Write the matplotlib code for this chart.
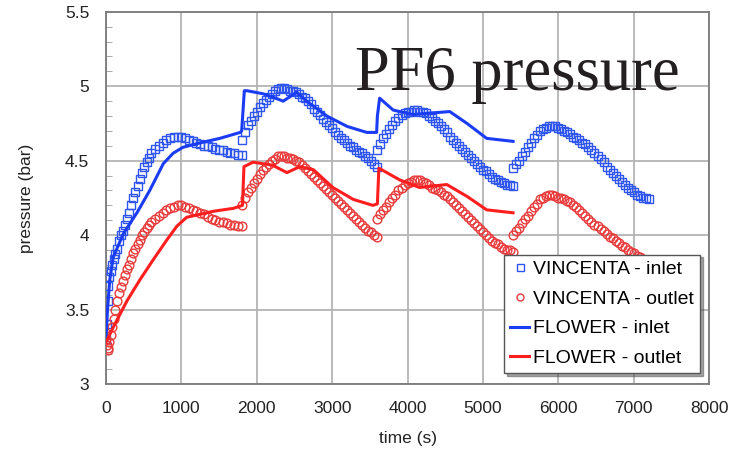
import numpy as np
import matplotlib
matplotlib.use("Agg")
import matplotlib.pyplot as plt
from matplotlib.ticker import MultipleLocator

# ---- data ----
t_seg1 = [0, 10, 20, 30, 45, 60, 80, 100, 125, 150, 175, 200, 225, 250, 275, 300, 330, 360, 390, 420,
          450, 480, 510, 540, 570, 600, 650, 700, 750, 800, 850, 900, 950, 1000, 1050, 1100, 1150, 1200,
          1250, 1300, 1350, 1400, 1450, 1500, 1550, 1600, 1650, 1700, 1750, 1800]
t_seg2 = list(range(1800, 3601, 40))
t_seg3 = list(range(3600, 5401, 40))
t_seg4 = list(range(5400, 7201, 40))

vin_in_1 = [3.30, 3.40, 3.56, 3.66, 3.72, 3.76, 3.80, 3.84, 3.87, 3.91, 3.96, 4.00, 4.03, 4.07, 4.11, 4.15,
            4.20, 4.25, 4.29, 4.33, 4.38, 4.42, 4.46, 4.49, 4.52, 4.55, 4.58, 4.60, 4.62, 4.64, 4.65, 4.66,
            4.66, 4.66, 4.65, 4.64, 4.63, 4.62, 4.61, 4.60, 4.60, 4.59, 4.58, 4.57, 4.57, 4.56, 4.55, 4.55,
            4.54, 4.54]
vin_in_2 = [4.64, 4.69, 4.74, 4.77, 4.80, 4.83, 4.86, 4.89, 4.91, 4.93,
            4.95, 4.97, 4.98, 4.99, 4.99, 4.98, 4.97, 4.97, 4.96, 4.95,
            4.93, 4.92, 4.90, 4.88, 4.85, 4.83, 4.81, 4.78, 4.76, 4.74,
            4.72, 4.69, 4.67, 4.65, 4.64, 4.62, 4.60, 4.59, 4.57, 4.56,
            4.55, 4.53, 4.52, 4.50, 4.48, 4.46]
vin_in_3 = [4.57, 4.61, 4.65, 4.68, 4.71, 4.74, 4.77, 4.79, 4.81, 4.82,
            4.83, 4.83, 4.84, 4.84, 4.83, 4.83, 4.82, 4.80, 4.79, 4.77,
            4.75, 4.73, 4.71, 4.69, 4.66, 4.64, 4.62, 4.60, 4.58, 4.56,
            4.54, 4.52, 4.50, 4.48, 4.46, 4.44, 4.43, 4.41, 4.39, 4.38,
            4.37, 4.36, 4.35, 4.34, 4.34, 4.33]
vin_in_4 = [4.45, 4.48, 4.50, 4.53, 4.56, 4.59, 4.62, 4.65, 4.67, 4.70,
            4.71, 4.72, 4.73, 4.73, 4.73, 4.72, 4.71, 4.70, 4.69, 4.68,
            4.66, 4.65, 4.64, 4.62, 4.61, 4.59, 4.57, 4.55, 4.53, 4.51,
            4.49, 4.46, 4.44, 4.42, 4.40, 4.38, 4.36, 4.34, 4.32, 4.30,
            4.29, 4.27, 4.26, 4.25, 4.25, 4.24]

vin_out_1 = [3.30, 3.26, 3.23, 3.24, 3.28, 3.33, 3.38, 3.44, 3.50, 3.56, 3.61, 3.65, 3.69, 3.73, 3.77, 3.80,
             3.84, 3.88, 3.91, 3.94, 3.97, 4.00, 4.02, 4.05, 4.07, 4.09, 4.11, 4.13, 4.15, 4.17, 4.18, 4.19,
             4.20, 4.20, 4.19, 4.18, 4.17, 4.16, 4.15, 4.14, 4.12, 4.11, 4.10, 4.09, 4.09, 4.08, 4.07, 4.07,
             4.06, 4.06]
vin_out_2 = [4.20, 4.25, 4.29, 4.32, 4.35, 4.38, 4.41, 4.44, 4.46, 4.48,
             4.50, 4.51, 4.53, 4.53, 4.53, 4.52, 4.52, 4.51, 4.50, 4.49,
             4.47, 4.45, 4.43, 4.41, 4.39, 4.37, 4.35, 4.33, 4.31, 4.29,
             4.27, 4.25, 4.23, 4.21, 4.19, 4.17, 4.15, 4.13, 4.11, 4.09,
             4.07, 4.05, 4.03, 4.02, 4.00, 3.99]
vin_out_3 = [4.11, 4.14, 4.17, 4.19, 4.22, 4.25, 4.27, 4.30, 4.32, 4.34,
             4.35, 4.36, 4.37, 4.37, 4.37, 4.36, 4.35, 4.34, 4.32, 4.31,
             4.30, 4.29, 4.27, 4.26, 4.24, 4.22, 4.20, 4.18, 4.16, 4.14,
             4.12, 4.10, 4.08, 4.06, 4.04, 4.02, 4.00, 3.98, 3.96, 3.95,
             3.94, 3.92, 3.91, 3.90, 3.90, 3.89]
vin_out_4 = [4.00, 4.03, 4.05, 4.08, 4.11, 4.13, 4.16, 4.19, 4.21, 4.24,
             4.25, 4.26, 4.27, 4.27, 4.26, 4.25, 4.25, 4.24, 4.23, 4.22,
             4.20, 4.19, 4.17, 4.15, 4.13, 4.11, 4.09, 4.07, 4.06, 4.04,
             4.03, 4.01, 3.99, 3.98, 3.96, 3.95, 3.93, 3.92, 3.90, 3.89,
             3.88, 3.86, 3.85, 3.84, 3.83, 3.82]

flow_in_t = [0, 20, 50, 95, 230, 410, 580, 760, 890, 1020, 1250, 1510, 1780, 1800, 1835, 1870, 2080, 2200,
             2350, 2530, 2660, 2930, 3200, 3460, 3590, 3600, 3630, 3810, 4070, 4300, 4560, 4790, 5050, 5400]
flow_in_p = [3.30, 3.50, 3.70, 3.85, 4.01, 4.15, 4.30, 4.48, 4.55, 4.59, 4.62, 4.65, 4.69, 4.70, 4.97, 4.97,
             4.95, 4.93, 4.90, 4.96, 4.90, 4.80, 4.73, 4.69, 4.69, 4.80, 4.92, 4.84, 4.81, 4.82, 4.83, 4.75,
             4.65, 4.63]

flow_out_t = [0, 95, 280, 450, 620, 810, 940, 1070, 1250, 1420, 1690, 1810, 1830, 1950, 2210, 2400, 2570,
              2750, 3010, 3280, 3540, 3600, 3620, 3900, 4160, 4520, 4790, 5050, 5400]
flow_out_p = [3.28, 3.38, 3.56, 3.70, 3.83, 3.97, 4.06, 4.12, 4.14, 4.16, 4.18, 4.20, 4.46, 4.49, 4.47, 4.42,
              4.46, 4.44, 4.32, 4.24, 4.20, 4.21, 4.45, 4.37, 4.32, 4.34, 4.26, 4.17, 4.15]

x_ticks = [0, 1000, 2000, 3000, 4000, 5000, 6000, 7000, 8000]
y_ticks = [3, 3.5, 4, 4.5, 5, 5.5]
y_tick_labels = ["3", "3.5", "4", "4.5", "5", "5.5"]

# ---- plot ----
plt.rcParams['font.family'] = ['Liberation Sans', 'DejaVu Sans']
fig = plt.figure(figsize=(7.31, 4.55), dpi=100)
ax = fig.add_axes([0.145, 0.156, 0.825, 0.818])

blue_m = '#2e55ee'
red_m = '#e83a3a'
blue_l = '#1a3cf5'
red_l = '#ff1e1e'

sq_kw = dict(marker='s', markersize=6.3, markerfacecolor='none', markeredgecolor=blue_m,
             markeredgewidth=1.0, linestyle='none')
ci_kw = dict(marker='o', markersize=6.3, markerfacecolor='none', markeredgecolor=red_m,
             markeredgewidth=1.0, linestyle='none')

ts = [t_seg1, t_seg2, t_seg3, t_seg4]
for i, (t, v) in enumerate(zip(ts, [vin_in_1, vin_in_2, vin_in_3, vin_in_4])):
    ax.plot(t, v, label='VINCENTA - inlet' if i == 0 else None, zorder=3, **sq_kw)
for i, (t, v) in enumerate(zip(ts, [vin_out_1, vin_out_2, vin_out_3, vin_out_4])):
    ax.plot(t, v, label='VINCENTA - outlet' if i == 0 else None, zorder=3, **ci_kw)

ax.plot(flow_in_t, flow_in_p, color=blue_l, lw=2.2, label='FLOWER - inlet', zorder=4)
ax.plot(flow_out_t, flow_out_p, color=red_l, lw=2.2, label='FLOWER - outlet', zorder=4)

ax.set_xlim(0, 8000)
ax.set_ylim(3, 5.5)
ax.set_xticks(x_ticks)
ax.set_yticks(y_ticks)
ax.set_yticklabels(y_tick_labels)
ax.yaxis.set_minor_locator(MultipleLocator(0.1))
ax.tick_params(axis='both', which='major', length=0, pad=12, labelsize=12.5, colors='#222222')
ax.tick_params(axis='y', which='minor', length=4, direction='in', color='#999999')
ax.grid(True, which='major', color='#b4b4b4', lw=1.3, zorder=0)
ax.set_axisbelow(True)
for s in ax.spines.values():
    s.set_color('#7a7a7a')
    s.set_linewidth(1.3)

ax.set_xlabel('time (s)', fontsize=12.5, labelpad=11, color='#222222')
ax.set_ylabel('pressure (bar)', fontsize=12.5, labelpad=22, color='#222222')

ax.text(0.413, 0.79, 'PF6 pressure', transform=ax.transAxes, fontsize=45,
        family='Liberation Serif', color='#231f20', va='baseline', ha='left', zorder=5)

leg = ax.legend(loc='lower right', bbox_to_anchor=(0.985, 0.03), fontsize=14,
                handlelength=1.0, handletextpad=0.2, labelspacing=0.62, borderpad=0.3,
                borderaxespad=0, fancybox=False, shadow=True, framealpha=1, edgecolor='#555555',
                markerscale=0.8)
leg.set_zorder(10)

fig.savefig('out.png', dpi=100)
